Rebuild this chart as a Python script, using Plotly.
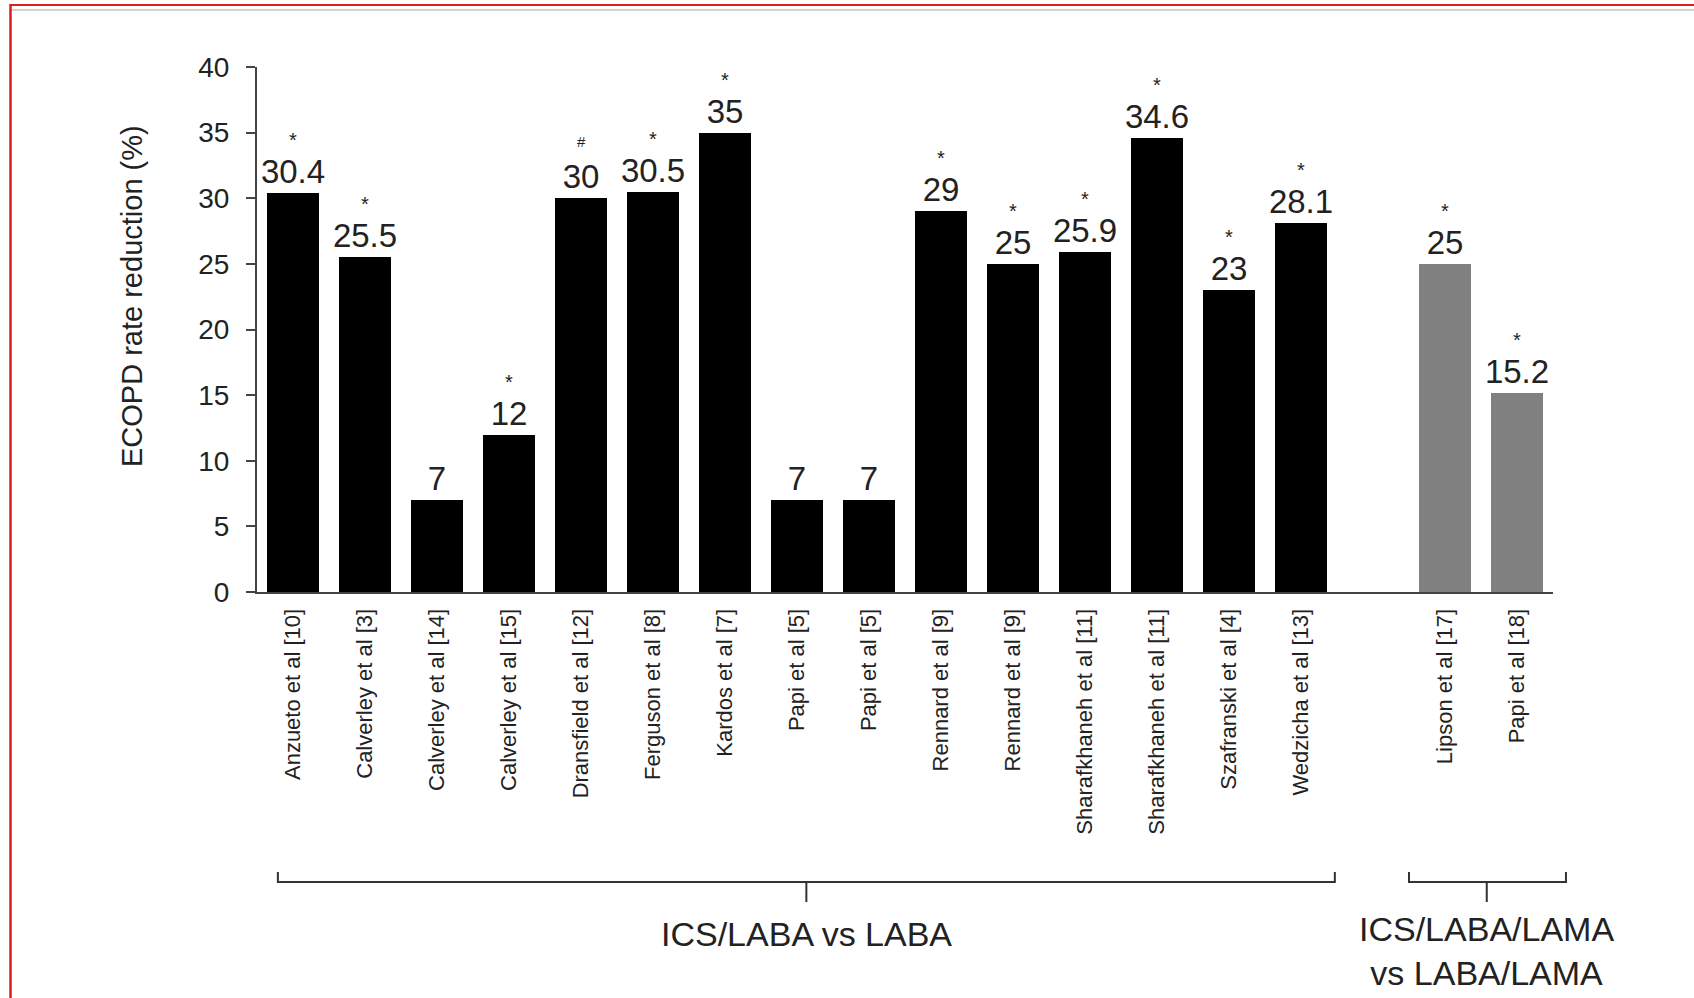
import plotly.graph_objects as go

# ---- data -------------------------------------------------------------
studies_ics_laba = [
    "Anzueto et al [10]", "Calverley et al [3]", "Calverley et al [14]",
    "Calverley et al [15]", "Dransfield et al [12]", "Ferguson et al [8]",
    "Kardos et al [7]", "Papi et al [5]", "Papi et al [5]", "Rennard et al [9]",
    "Rennard et al [9]", "Sharafkhaneh et al [11]", "Sharafkhaneh et al [11]",
    "Szafranski et al [4]", "Wedzicha et al [13]",
]
reduction_ics_laba = [30.4, 25.5, 7, 12, 30, 30.5, 35, 7, 7, 29, 25, 25.9, 34.6, 23, 28.1]
marks_ics_laba = ["*", "*", "", "*", "#", "*", "*", "", "", "*", "*", "*", "*", "*", "*"]

studies_triple = ["Lipson et al [17]", "Papi et al [18]"]
reduction_triple = [25, 15.2]
marks_triple = ["*", "*"]

y_ticks = [0, 5, 10, 15, 20, 25, 30, 35, 40]
y_title = "ECOPD rate reduction (%)"
group_titles = ["ICS/LABA vs LABA", "ICS/LABA/LAMA<br>vs LABA/LAMA"]

# ---- layout geometry --------------------------------------------------
W, H = 1694, 998
ML, MR, MT, MB = 257, 141, 67, 406
PW, PH = W - ML - MR, H - MT - MB
FONT = "Liberation Sans, Arial, Helvetica, sans-serif"

# one empty slot separates the two comparison groups
x_ics_laba = list(range(len(studies_ics_laba)))
x_triple = [len(studies_ics_laba) + 1 + i for i in range(len(studies_triple))]
x_min, x_max = -0.5, x_triple[-1] + 0.5


def px_x(px):
    return (px - ML) / PW


def px_y(py):
    return (H - MB - py) / PH


def idx_x(i):
    return (i - x_min) / (x_max - x_min)


fig = go.Figure()

for xs, ys, colour in [
    (x_ics_laba, reduction_ics_laba, "#000000"),
    (x_triple, reduction_triple, "#808080"),
]:
    fig.add_trace(go.Bar(
        x=xs, y=ys, width=0.71,
        marker=dict(color=colour, line=dict(width=0)),
        text=[f"{v:g}" for v in ys],
        textposition="outside",
        constraintext="none",
        cliponaxis=False,
        textfont=dict(family=FONT, size=33, color="#222222"),
        hoverinfo="skip",
        showlegend=False,
    ))

annotations = []
for xs, ys, marks in [
    (x_ics_laba, reduction_ics_laba, marks_ics_laba),
    (x_triple, reduction_triple, marks_triple),
]:
    for x, v, m in zip(xs, ys, marks):
        if not m:
            continue
        annotations.append(dict(
            x=x, y=v, xref="x", yref="y", text=m, showarrow=False,
            yanchor="middle", yshift=53 if m == "*" else 57,
            font=dict(family=FONT, size=20 if m == "*" else 15, color="#222222"),
        ))

# y-axis title
annotations.append(dict(
    x=px_x(132), y=px_y(296), xref="paper", yref="paper", text=y_title,
    textangle=-90, showarrow=False, xanchor="center", yanchor="middle",
    font=dict(family=FONT, size=29, color="#222222"),
))

# group brackets below the study names
bracket_spans = [(-0.21, 14.47), (15.5, 17.68)]
bracket_centres = [7.13, 16.58]
y_line, y_end, y_stem = px_y(882), px_y(872), px_y(902)
shapes = []
for (a, b), c in zip(bracket_spans, bracket_centres):
    xa, xb, xc = idx_x(a), idx_x(b), idx_x(c)
    shapes.append(dict(
        type="path", xref="paper", yref="paper",
        path=f"M {xa},{y_end} L {xa},{y_line} L {xb},{y_line} L {xb},{y_end}",
        line=dict(color="#333333", width=2),
    ))
    shapes.append(dict(
        type="line", xref="paper", yref="paper",
        x0=xc, x1=xc, y0=y_line, y1=y_stem,
        line=dict(color="#333333", width=2),
    ))

annotations.append(dict(
    x=idx_x(bracket_centres[0]), y=px_y(934), xref="paper", yref="paper",
    text=group_titles[0], showarrow=False, xanchor="center", yanchor="middle",
    font=dict(family=FONT, size=34, color="#222222"),
))
annotations.append(dict(
    x=idx_x(bracket_centres[1]), y=px_y(951), xref="paper", yref="paper",
    text=group_titles[1], showarrow=False, xanchor="center", yanchor="middle",
    font=dict(family=FONT, size=34, color="#222222"),
))

# page frame
shapes += [
    dict(type="line", xref="paper", yref="paper", x0=px_x(10), x1=px_x(W),
         y0=px_y(5), y1=px_y(5), line=dict(color="#d81e1e", width=2)),
    dict(type="line", xref="paper", yref="paper", x0=px_x(11), x1=px_x(W),
         y0=px_y(10), y1=px_y(10), line=dict(color="#d4d4d4", width=2)),
    dict(type="line", xref="paper", yref="paper", x0=px_x(10.5), x1=px_x(10.5),
         y0=px_y(4), y1=px_y(H), line=dict(color="#d81e1e", width=2.5)),
]

fig.update_layout(
    width=W, height=H,
    margin=dict(l=ML, r=MR, t=MT, b=MB, pad=0),
    paper_bgcolor="white", plot_bgcolor="white",
    bargap=0,
    font=dict(family=FONT, color="#222222"),
    annotations=annotations,
    shapes=shapes,
)

fig.update_xaxes(
    range=[x_min, x_max],
    tickvals=x_ics_laba + x_triple,
    ticktext=studies_ics_laba + studies_triple,
    tickangle=-90,
    tickfont=dict(family=FONT, size=22, color="#222222"),
    ticks="", ticklabelstandoff=6,
    showline=True, linecolor="#444444", linewidth=2,
    showgrid=False, zeroline=False, fixedrange=True,
)
fig.update_yaxes(
    range=[0, 40],
    tickvals=y_ticks,
    tickfont=dict(family=FONT, size=28, color="#222222"),
    ticks="outside", ticklen=9, tickwidth=2, tickcolor="#444444",
    ticklabelstandoff=11,
    showline=True, linecolor="#444444", linewidth=2,
    showgrid=False, zeroline=False, fixedrange=True,
)

fig.write_html("out.html")
